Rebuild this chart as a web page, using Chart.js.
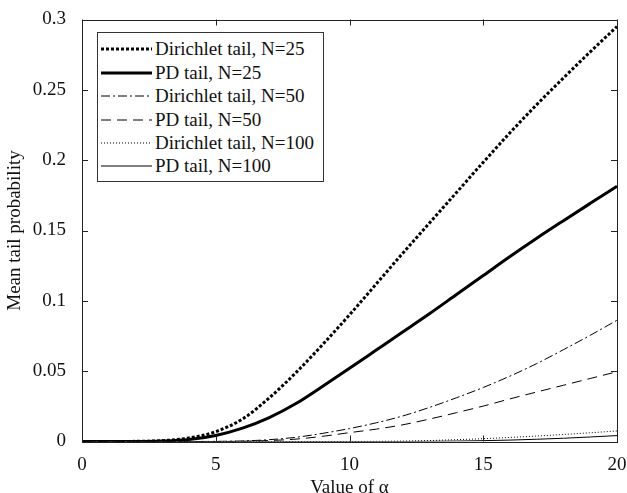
<!DOCTYPE html>
<html>
<head>
<meta charset="utf-8">
<script src="https://cdn.jsdelivr.net/npm/chart.js@4.4.1/dist/chart.umd.min.js"></script>
<style>
html, body { margin:0; padding:0; background:#fff; }
#wrap { position:relative; width:627px; height:493px; }
#legend { position:absolute; left:97px; top:32px; width:225px; height:148px; border:1px solid #333; background:#fff;
  font-family:"Liberation Serif","Times New Roman",serif; font-size:19px; color:#111; }
.row { position:absolute; left:3px; height:24px; display:flex; align-items:center; white-space:nowrap; }
.row svg { width:51px; height:8px; margin-right:3px; }
</style>
</head>
<body>
<div id="wrap">
  <canvas id="myChart" width="627" height="493"></canvas>
  <div id="legend"></div>
</div>
<script>
// alpha values (x axis)
var alpha = [0,1,2,3,4,5,6,7,8,9,10,11,12,13,14,15,16,17,18,19,20];

// mean tail probability
var dirN25 = [0,0,0.0001,0.0006,0.0025,0.007,0.016,0.031,0.049,0.069,0.090,0.112,0.134,0.1555,0.177,0.1985,0.2195,0.2395,0.2585,0.277,0.295];
var pdN25  = [0,0,0,0.0003,0.0014,0.0043,0.0095,0.017,0.027,0.0393,0.052,0.065,0.078,0.091,0.1045,0.118,0.1315,0.1445,0.157,0.1693,0.1815];
var dirN50 = [0,0,0,0,0,0.0001,0.0004,0.0013,0.003,0.0058,0.0092,0.0133,0.0182,0.0243,0.0311,0.0384,0.0465,0.0554,0.0653,0.0755,0.0862];
var pdN50  = [0,0,0,0,0,0,0.0002,0.0007,0.0017,0.0037,0.0063,0.0088,0.0119,0.016,0.0205,0.0252,0.0303,0.0352,0.0400,0.0448,0.0496];
var dirN100 = [0,0,0,0,0,0,0,0,0,0,0,0.0001,0.0003,0.0007,0.0013,0.002,0.0029,0.0039,0.005,0.0062,0.0075];
var pdN100  = [0,0,0,0,0,0,0,0,0,0,0,0,0,0.0001,0.0003,0.0006,0.001,0.0016,0.0023,0.0032,0.0042];

var xTicks = [0,5,10,15,20];
var yTicks = [0,0.05,0.1,0.15,0.2,0.25,0.3];

function pts(arr){
    var out = [];
    for (var i=0; i<alpha.length; i++){
        out.push({x: alpha[i], y: arr[i]});
    }
    return out;
}

var font = '"Liberation Serif","Times New Roman",serif';

// ticks pointing inward + box around the plot, like matlab
var boxTicks = {
    id: 'boxTicks',
    afterDraw: function(chart){
        var ctx = chart.ctx;
        var a = chart.chartArea;
        var xs = chart.scales.x, ys = chart.scales.y;
        ctx.save();
        ctx.strokeStyle = '#222';
        ctx.lineWidth = 1;
        ctx.beginPath();
        xs.ticks.forEach(function(t){
            var p = Math.round(xs.getPixelForValue(t.value)) + 0.5;
            ctx.moveTo(p, a.bottom); ctx.lineTo(p, a.bottom - 6);
            ctx.moveTo(p, a.top); ctx.lineTo(p, a.top + 6);
        });
        ys.ticks.forEach(function(t){
            var p = Math.round(ys.getPixelForValue(t.value)) + 0.5;
            ctx.moveTo(a.left, p); ctx.lineTo(a.left + 6, p);
            ctx.moveTo(a.right, p); ctx.lineTo(a.right - 6, p);
        });
        ctx.stroke();
        ctx.strokeRect(Math.round(a.left)+0.5, Math.round(a.top)+0.5, Math.round(a.right-a.left), Math.round(a.bottom-a.top));
        ctx.restore();
    }
};

var ctx = document.getElementById("myChart");
var myChart = new Chart(ctx, {
    type: 'line',
    data: {
        datasets: [
            { label: 'Dirichlet tail, N=25', data: pts(dirN25), borderColor: '#000', borderWidth: 3, borderDash: [3,2] },
            { label: 'PD tail, N=25', data: pts(pdN25), borderColor: '#000', borderWidth: 3, borderDash: [] },
            { label: 'Dirichlet tail, N=50', data: pts(dirN50), borderColor: '#000', borderWidth: 1, borderDash: [9,3,2,3] },
            { label: 'PD tail, N=50', data: pts(pdN50), borderColor: '#000', borderWidth: 1, borderDash: [10,6] },
            { label: 'Dirichlet tail, N=100', data: pts(dirN100), borderColor: '#000', borderWidth: 1, borderDash: [1,2] },
            { label: 'PD tail, N=100', data: pts(pdN100), borderColor: '#000', borderWidth: 1, borderDash: [] }
        ]
    },
    options: {
        responsive: false,
        animation: false,
        devicePixelRatio: 1,
        layout: { padding: { top: 19.5, right: 10, left: 0, bottom: 0 } },
        elements: { point: { radius: 0 }, line: { cubicInterpolationMode: 'monotone', fill: false } },
        plugins: { legend: { display: false }, tooltip: { enabled: false } },
        scales: {
            x: {
                type: 'linear', min: 0, max: 20,
                afterBuildTicks: function(s){ s.ticks = xTicks.map(function(v){ return {value: v}; }); },
                afterFit: function(s){ s.height = 51.5; s.paddingRight = 0; s.paddingLeft = 0; },
                grid: { display: false },
                border: { display: false },
                ticks: { color: '#111', padding: 4, font: { family: font, size: 19 }, maxRotation: 0 },
                title: { display: true, text: 'Value of α', color: '#111', padding: { top: 0, bottom: -6 }, font: { family: font, size: 19 } }
            },
            y: {
                type: 'linear', min: 0, max: 0.3,
                afterBuildTicks: function(s){ s.ticks = yTicks.map(function(v){ return {value: v}; }); },
                afterFit: function(s){ s.width = 82; s.paddingTop = 0; s.paddingBottom = 0; },
                grid: { display: false },
                border: { display: false },
                ticks: { color: '#111', padding: 8, font: { family: font, size: 19 },
                    callback: function(v){ return String(parseFloat(v.toFixed(2))); } },
                title: { display: true, text: 'Mean tail probability', color: '#111', padding: { top: 4, bottom: 0 }, font: { family: font, size: 19 } }
            }
        }
    },
    plugins: [boxTicks]
});

// legend inside the plot, built from the datasets
var leg = document.getElementById('legend');
myChart.data.datasets.forEach(function(ds, i){
    var row = document.createElement('div');
    row.className = 'row';
    row.style.top = (4.3 + i * 23.4) + 'px';
    var dash = ds.borderDash.length ? ds.borderDash.join(',') : 'none';
    row.innerHTML = '<svg viewBox="0 0 51 8"><line x1="0" y1="4" x2="51" y2="4" stroke="' + ds.borderColor +
        '" stroke-width="' + ds.borderWidth + '" stroke-dasharray="' + dash + '"/></svg>';
    var span = document.createElement('span');
    span.textContent = ds.label;
    row.appendChild(span);
    leg.appendChild(row);
});
</script>
</body>
</html>
